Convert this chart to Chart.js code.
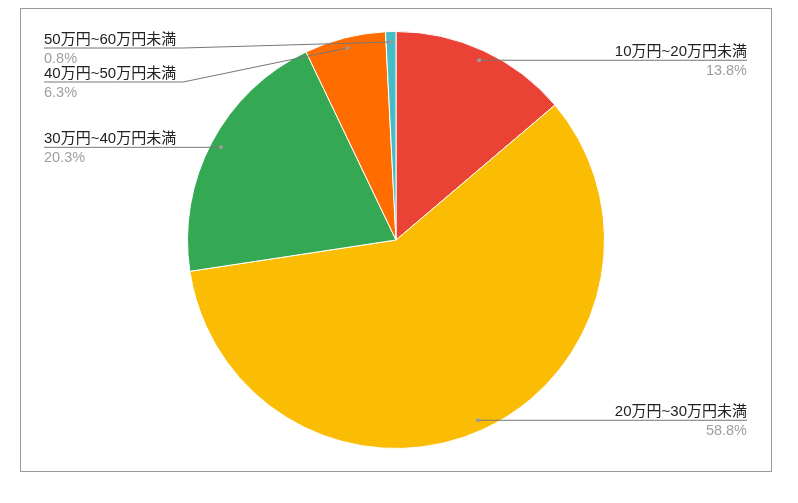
<!DOCTYPE html>
<html>
<head>
<meta charset="utf-8">
<script src="https://cdn.jsdelivr.net/npm/chart.js@4"></script>
<style>
html,body{margin:0;padding:0;background:#fff;}
#c{display:block;}
</style>
</head>
<body>
<canvas id="c" width="798" height="503"></canvas>
<script>
const categories = ["10万円~20万円未満","20万円~30万円未満","30万円~40万円未満","40万円~50万円未満","50万円~60万円未満"];
const shares = [13.8, 58.8, 20.3, 6.3, 0.8];
const colors = ["#EA4335","#FBBC04","#34A853","#FF6D01","#46BDC6"];

const FONT = '15px "Liberation Sans", Arial, "Noto Sans CJK JP", sans-serif';
const PFONT = '14.5px "Liberation Sans", Arial, "Noto Sans CJK JP", sans-serif';

const labelPlugin = {
  id: 'sideLabels',
  beforeDraw(chart) {
    const ctx = chart.ctx;
    ctx.save();
    ctx.strokeStyle = '#9a9a9a';
    ctx.lineWidth = 1;
    ctx.strokeRect(20.5, 8.5, 751, 463);
    ctx.restore();
  },
  afterDraw(chart) {
    const ctx = chart.ctx;
    const ca = chart.chartArea;
    const meta = chart.getDatasetMeta(0);
    const ds = chart.data.datasets[0];
    const textLeft = ca.left + 24;
    const textRight = ca.right - 25;
    const minY = ca.top + 17;
    const gap = 34;
    ctx.save();
    ctx.font = FONT;
    const items = meta.data.map((arc, i) => {
      const p = arc.getProps(['x','y','startAngle','endAngle','outerRadius'], true);
      const mid = (p.startAngle + p.endAngle) / 2;
      const r = p.outerRadius * 0.95;
      return {
        i,
        dx: p.x + Math.cos(mid) * r,
        dy: p.y + Math.sin(mid) * r,
        side: Math.cos(mid) >= 0 ? 'right' : 'left',
        label: chart.data.labels[i],
        pct: ds.data[i].toFixed(1) + '%'
      };
    });
    ['left','right'].forEach(side => {
      const list = items.filter(o => o.side === side).sort((a,b) => a.dy - b.dy);
      let prev = -Infinity;
      list.forEach(o => {
        o.ly = Math.max(o.dy, prev + gap, minY);
        prev = o.ly;
      });
    });
    items.forEach(o => {
      ctx.font = FONT;
      const w = ctx.measureText(o.label).width;
      ctx.strokeStyle = '#777777';
      ctx.lineWidth = 1;
      ctx.beginPath();
      if (o.side === 'left') {
        const bend = textLeft + w + 7;
        ctx.moveTo(textLeft, o.ly);
        if (Math.abs(o.ly - o.dy) > 0.5) { ctx.lineTo(bend, o.ly); }
        ctx.lineTo(o.dx, o.dy);
      } else {
        const bend = textRight - w - 7;
        ctx.moveTo(textRight, o.ly);
        if (Math.abs(o.ly - o.dy) > 0.5) { ctx.lineTo(bend, o.ly); }
        ctx.lineTo(o.dx, o.dy);
      }
      ctx.stroke();
      ctx.fillStyle = '#9a9a9a';
      ctx.beginPath();
      ctx.arc(o.dx, o.dy, 2, 0, Math.PI * 2);
      ctx.fill();
      ctx.textAlign = o.side === 'left' ? 'left' : 'right';
      ctx.textBaseline = 'alphabetic';
      const tx = o.side === 'left' ? textLeft : textRight;
      ctx.fillStyle = '#222222';
      ctx.fillText(o.label, tx, o.ly - 4);
      ctx.font = PFONT;
      ctx.fillStyle = '#9e9e9e';
      ctx.fillText(o.pct, tx, o.ly + 14.5);
    });
    ctx.restore();
  }
};

new Chart(document.getElementById('c'), {
  type: 'pie',
  data: {
    labels: categories,
    datasets: [{
      data: shares,
      backgroundColor: colors,
      borderColor: '#ffffff',
      borderWidth: 1
    }]
  },
  options: {
    responsive: false,
    animation: false,
    layout: { padding: { left: 20, right: 26, top: 31, bottom: 54 } },
    plugins: {
      legend: { display: false },
      tooltip: { enabled: false }
    }
  },
  plugins: [labelPlugin]
});
</script>
</body>
</html>
